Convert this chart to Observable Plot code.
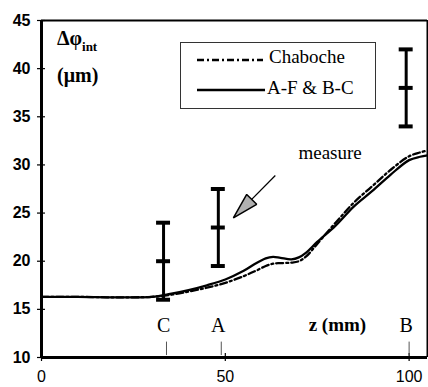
<!DOCTYPE html>
<html><head><meta charset="utf-8">
<script src="https://cdn.jsdelivr.net/npm/d3@7"></script>
<script src="https://cdn.jsdelivr.net/npm/@observablehq/plot@0.6"></script>
<style>
body{margin:0;background:#fff;}
#wrap{position:relative;width:428px;height:387px;overflow:hidden;}
</style></head>
<body><div id="wrap"></div>
<script>
// ---- data ----
const zValues      = [0, 10, 20, 30, 35, 40, 45, 50, 55, 58, 61, 63, 65, 68, 70, 72, 75, 80, 85, 90, 95, 100, 103, 105];
const solidAFBC    = [16.3,16.3,16.25,16.3,16.6,17.0,17.5,18.1,19.0,19.7,20.3,20.45,20.35,20.2,20.4,20.9,22.0,23.7,25.7,27.3,29.0,30.5,30.85,31.0];
const chabocheDash = [16.3,16.3,16.25,16.3,16.5,16.85,17.25,17.75,18.45,18.95,19.5,19.75,19.8,19.85,20.0,20.5,21.8,24.0,26.1,27.8,29.5,30.9,31.3,31.5];
const pointLabels  = ["C", "A", "B"];
const pointZ       = [33.2, 48.1, 99.2];
const measureLow   = [16, 19.5, 34];
const measureMid   = [20, 23.5, 38];
const measureHigh  = [24, 27.5, 42];
const yTicks = [10, 15, 20, 25, 30, 35, 40, 45];
const xTicks = [0, 50, 100];
const arrowFrom = {z: 63.6, v: 28.9};
const arrowTo   = {z: 52.2, v: 24.5};

// ---- tables ----
const curves = zValues.flatMap((z, i) => [
  {z, v: solidAFBC[i], s: "A-F & B-C"},
  {z, v: chabocheDash[i], s: "Chaboche"}
]);
const bars = pointLabels.map((l, i) => ({l, z: pointZ[i], lo: measureLow[i], mid: measureMid[i], hi: measureHigh[i]}));
const caps = bars.flatMap(b => [b.lo, b.mid, b.hi].map(v => ({z: b.z, v})));

function headMarker(color, context) {
  const m = d3.create("svg:marker")
    .attr("viewBox", "-26 -7 28 14").attr("markerWidth", 28).attr("markerHeight", 14)
    .attr("orient", "auto").attr("markerUnits", "userSpaceOnUse")
    .attr("refX", 0).attr("refY", 0).attr("overflow", "visible");
  m.append("path").attr("d", "M0,0L-26,-7L-26,7Z")
    .attr("fill", "#b0b0b0").attr("stroke", "#000").attr("stroke-width", 1.5).attr("stroke-linejoin", "miter");
  return m.node();
}

const SERIF = "'Liberation Serif', 'Times New Roman', serif";
const capHalf = 1.9;
const chart = Plot.plot({
  width: 428, height: 387,
  marginLeft: 41, marginTop: 20, marginRight: 1, marginBottom: 30,
  x: {domain: [0, 105]},
  y: {domain: [10, 45]},
  style: {fontFamily: "'Liberation Sans', Arial, sans-serif", fontSize: "16px", color: "#000", background: "#fff"},
  marks: [
    Plot.axisY({ticks: yTicks, tickSize: 4, tickPadding: 7, label: null, fontSize: 16, fontWeight: "bold", strokeWidth: 1.2}),
    Plot.axisY({ticks: yTicks, tickSize: -4, tickFormat: () => "", label: null, strokeWidth: 1.2}),
    Plot.axisX({ticks: xTicks, tickSize: 4, tickPadding: 9, label: null, fontSize: 16, strokeWidth: 1.2}),
    Plot.axisX({ticks: xTicks, tickSize: -4, tickFormat: () => "", label: null, strokeWidth: 1.2}),
    Plot.ruleX([0], {strokeWidth: 3}),
    Plot.ruleY([10], {strokeWidth: 3}),
    Plot.ruleY([45], {strokeWidth: 2}),
    Plot.ruleX([105], {strokeWidth: 2}),
    // small location marks
    Plot.ruleX(bars, {x: d => d.z + 0.8, y1: 10.2, y2: 11.6, stroke: "#555", strokeWidth: 1}),
    // curves
    Plot.line(curves.filter(d => d.s === "A-F & B-C"), {x: "z", y: "v", curve: "catmull-rom", stroke: "#000", strokeWidth: 2.3}),
    Plot.line(curves.filter(d => d.s === "Chaboche"), {x: "z", y: "v", curve: "catmull-rom", stroke: "#000", strokeWidth: 2.3, strokeDasharray: "7,3,2,3"}),
    // error bars
    Plot.ruleX(bars, {x: "z", y1: "lo", y2: "hi", strokeWidth: 3}),
    Plot.ruleY(caps, {y: "v", x1: d => d.z - capHalf, x2: d => d.z + capHalf, strokeWidth: 4}),
    // letters
    Plot.text(bars, {x: "z", y: 13.35, text: "l", fontFamily: SERIF, fontSize: 20}),
    Plot.text(["z (mm)"], {x: 80.5, y: 13.35, text: d => d, fontFamily: SERIF, fontSize: 19, fontWeight: "bold"}),
    Plot.text(["measure"], {x: 78.5, y: 31.2, text: d => d, fontFamily: SERIF, fontSize: 19}),
    // arrow
    Plot.link([{a: arrowFrom, b: arrowTo}], {x1: d => d.a.z, y1: d => d.a.v, x2: d => d.b.z, y2: d => d.b.v, stroke: "#000", strokeWidth: 1.2, markerEnd: headMarker})
  ]
});
const wrap = document.getElementById("wrap");
wrap.appendChild(chart);

// y title and legend overlay
const t = document.createElement("div");
t.style.cssText = "position:absolute;left:57px;top:24px;font-size:20px;font-weight:bold;line-height:28px;color:#000;font-family:" + SERIF;
t.innerHTML = "Δφ<sub style='font-size:13px;vertical-align:-6px'>int</sub><br>(μm)";
wrap.appendChild(t);

const lg = document.createElement("div");
lg.style.cssText = "position:absolute;left:180px;top:42px;width:196px;height:67px;border:1px solid #333;box-sizing:border-box;font-size:19px;color:#000;font-family:" + SERIF;
lg.innerHTML =
  "<svg width='80' height='67' style='position:absolute;left:14px;top:0'>" +
  "<line x1='2' y1='17' x2='68' y2='17' stroke='#000' stroke-width='2.3' stroke-dasharray='7,3,2,3'/>" +
  "<line x1='2' y1='47' x2='70' y2='47' stroke='#000' stroke-width='2.3'/></svg>" +
  "<div style='position:absolute;left:88px;top:3px'>Chaboche</div>" +
  "<div style='position:absolute;left:86px;top:34px'>A-F &amp; B-C</div>";
wrap.appendChild(lg);
</script></body></html>
